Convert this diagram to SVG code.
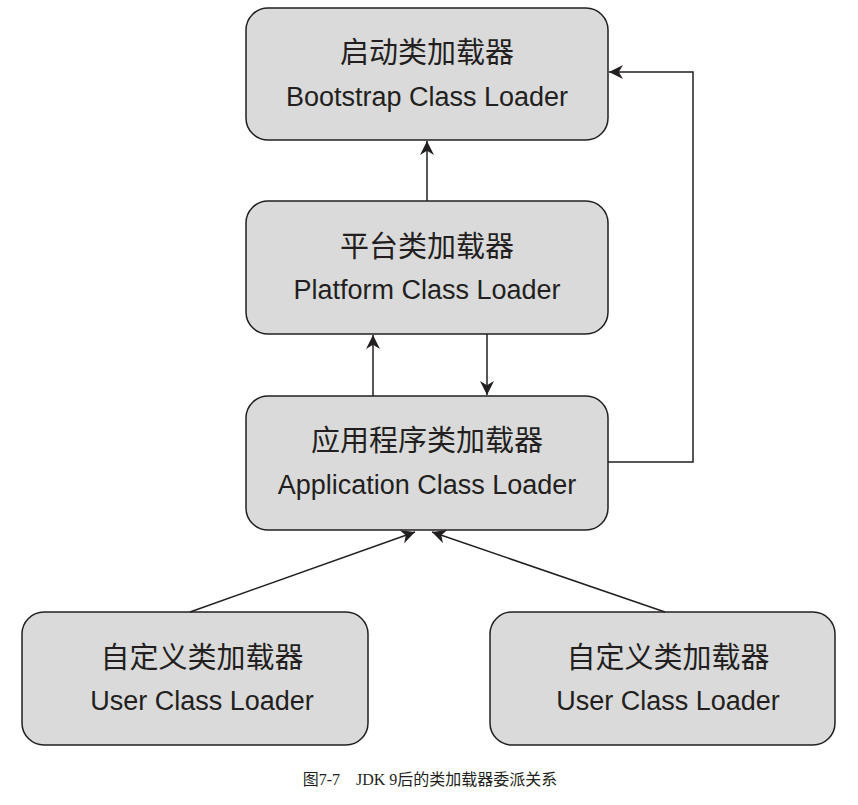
<svg xmlns="http://www.w3.org/2000/svg" width="858" height="805" viewBox="0 0 858 805">
<style>
.box{fill:#dadada;stroke:#231f20;stroke-width:1.5}
.zh{font-family:"Noto Sans CJK SC",sans-serif;font-size:29px;fill:#231f20;text-anchor:middle}
.en{font-family:"Liberation Sans",sans-serif;font-size:27px;fill:#231f20;text-anchor:middle}
.ln{fill:none;stroke:#231f20;stroke-width:1.5;marker-end:url(#a)}
</style>
<defs><marker id="a" viewBox="0 0 10 10" refX="10" refY="5" markerWidth="14" markerHeight="14" markerUnits="userSpaceOnUse" orient="auto"><path d="M0,0 L10,5 L0,10 L3,5 Z" fill="#231f20"/></marker></defs>
<rect width="858" height="805" fill="#fff"/>
<g id="bootstrap"><rect class="box" x="246" y="8" width="362" height="132" rx="22"/><text class="zh" x="427" y="63">启动类加载器</text><text class="en" x="427" y="106">Bootstrap Class Loader</text></g>
<g id="platform"><rect class="box" x="246" y="201" width="362" height="133" rx="22"/><text class="zh" x="427" y="257">平台类加载器</text><text class="en" x="427" y="299">Platform Class Loader</text></g>
<g id="application"><rect class="box" x="246" y="396" width="362" height="134" rx="22"/><text class="zh" x="427" y="451">应用程序类加载器</text><text class="en" x="427" y="494">Application Class Loader</text></g>
<g id="user1"><rect class="box" x="22" y="612" width="346" height="133" rx="22"/><text class="zh" x="202" y="668">自定义类加载器</text><text class="en" x="202" y="710">User Class Loader</text></g>
<g id="user2"><rect class="box" x="490" y="612" width="345" height="133" rx="22"/><text class="zh" x="668" y="668">自定义类加载器</text><text class="en" x="668" y="710">User Class Loader</text></g>
<g id="connectors">
<path class="ln" d="M427,201 V141"/>
<path class="ln" d="M373,396 V335"/>
<path class="ln" d="M487,334 V395"/>
<path class="ln" d="M608,462 H693 V72 H609"/>
<path class="ln" d="M190,612 L415,532"/>
<path class="ln" d="M665,612 L432,532"/>
</g>
<text x="430" y="785" style="font-family:'Liberation Serif','Noto Sans CJK SC',serif;font-size:16px;fill:#231f20;text-anchor:middle">图7-7　JDK 9后的类加载器委派关系</text>
</svg>
